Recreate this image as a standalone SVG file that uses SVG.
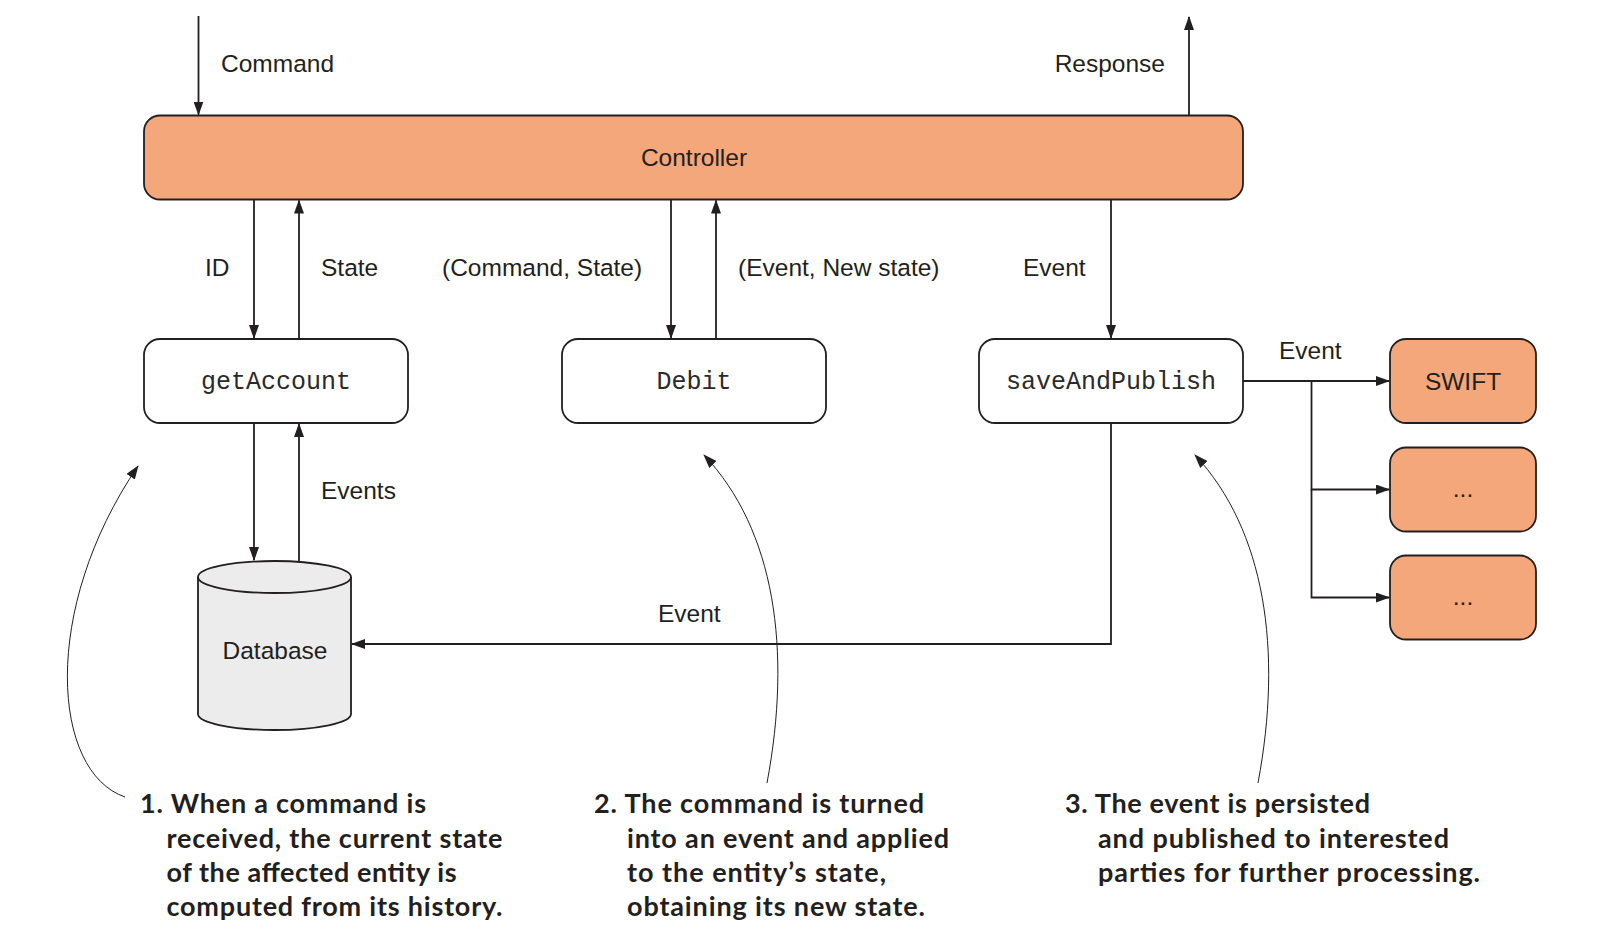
<svg xmlns="http://www.w3.org/2000/svg" width="1604" height="942" viewBox="0 0 1604 942">
<style>
.lbl{font-family:"Liberation Sans",Arial,sans-serif;font-size:24.5px;fill:#231f20}
.mono{font-family:"Liberation Mono","Courier New",monospace;font-size:25px;fill:#2a2a2a}
.note{font-family:Lato,"Open Sans",sans-serif;font-weight:bold;font-size:27px;fill:#231f20}
.orange{fill:#F4A77B;stroke:#231f20;stroke-width:1.8}
.white{fill:#ffffff;stroke:#231f20;stroke-width:1.8}
.ln{fill:none;stroke:#231f20;stroke-width:1.8}
.thin{fill:none;stroke:#231f20;stroke-width:1}
</style>
<defs>
<marker id="ah" markerWidth="14" markerHeight="10" refX="13" refY="5" orient="auto" markerUnits="userSpaceOnUse">
<path d="M0,0 L14,5 L0,10 Z" fill="#231f20"/>
</marker>
</defs>
<rect width="1604" height="942" fill="#ffffff"/>

<g id="controller">
<rect class="orange" x="144" y="115.5" width="1099" height="84" rx="16"/>
<text class="lbl" x="694" y="166" text-anchor="middle">Controller</text>
</g>
<g id="getAccount">
<rect class="white" x="144" y="339" width="264" height="84" rx="16"/>
<text class="mono" x="276" y="389" text-anchor="middle">getAccount</text>
</g>
<g id="debit">
<rect class="white" x="562" y="339" width="264" height="84" rx="16"/>
<text class="mono" x="694" y="389" text-anchor="middle">Debit</text>
</g>
<g id="saveAndPublish">
<rect class="white" x="979" y="339" width="264" height="84" rx="16"/>
<text class="mono" x="1111" y="389" text-anchor="middle">saveAndPublish</text>
</g>
<g id="swift">
<rect class="orange" x="1390" y="339" width="146" height="84" rx="16"/>
<text class="lbl" x="1463" y="390" text-anchor="middle">SWIFT</text>
</g>
<g id="sub2">
<rect class="orange" x="1390" y="447.5" width="146" height="84" rx="16"/>
<text class="lbl" x="1463" y="497" text-anchor="middle">...</text>
</g>
<g id="sub3">
<rect class="orange" x="1390" y="555.5" width="146" height="84" rx="16"/>
<text class="lbl" x="1463" y="605" text-anchor="middle">...</text>
</g>
<g id="database">
<path d="M198,577 L198,714 A76.5,16 0 0 0 351,714 L351,577" fill="#ececec" stroke="#231f20" stroke-width="1.8"/>
<ellipse cx="274.5" cy="577" rx="76.5" ry="16" fill="#ececec" stroke="#231f20" stroke-width="1.8"/>
<text class="lbl" x="275" y="659" text-anchor="middle">Database</text>
</g>

<g id="connectors">
<line class="ln" x1="198.5" y1="16" x2="198.5" y2="114.5" marker-end="url(#ah)"/>
<line class="ln" x1="1189" y1="115.5" x2="1189" y2="17" marker-end="url(#ah)"/>
<line class="ln" x1="254" y1="199.5" x2="254" y2="338" marker-end="url(#ah)"/>
<line class="ln" x1="299" y1="339" x2="299" y2="200.5" marker-end="url(#ah)"/>
<line class="ln" x1="671" y1="199.5" x2="671" y2="338" marker-end="url(#ah)"/>
<line class="ln" x1="716" y1="339" x2="716" y2="200.5" marker-end="url(#ah)"/>
<line class="ln" x1="1111" y1="199.5" x2="1111" y2="338" marker-end="url(#ah)"/>
<line class="ln" x1="254" y1="423" x2="254" y2="560" marker-end="url(#ah)"/>
<line class="ln" x1="299" y1="561" x2="299" y2="424" marker-end="url(#ah)"/>
<polyline class="ln" points="1111,423 1111,644 352,644" marker-end="url(#ah)"/>
<line class="ln" x1="1243" y1="381" x2="1389" y2="381" marker-end="url(#ah)"/>
<polyline class="ln" points="1311.5,381 1311.5,489.5 1389,489.5" marker-end="url(#ah)"/>
<polyline class="ln" points="1311.5,489.5 1311.5,597.5 1389,597.5" marker-end="url(#ah)"/>
<path class="thin" d="M125,797 C52,772 40,610 138,466" marker-end="url(#ah)"/>
<path class="thin" d="M767,783 C792,650 775,530 704,455" marker-end="url(#ah)"/>
<path class="thin" d="M1258,783 C1283,650 1265,530 1195,455" marker-end="url(#ah)"/>
</g>

<g id="labels">
<text class="lbl" x="221" y="72">Command</text>
<text class="lbl" x="1165" y="72" text-anchor="end">Response</text>
<text class="lbl" x="205" y="276">ID</text>
<text class="lbl" x="321" y="276">State</text>
<text class="lbl" x="442" y="276">(Command, State)</text>
<text class="lbl" x="738" y="276">(Event, New state)</text>
<text class="lbl" x="1023" y="276">Event</text>
<text class="lbl" x="1279" y="359">Event</text>
<text class="lbl" x="321" y="499">Events</text>
<text class="lbl" x="658" y="622">Event</text>
</g>

<g id="notes">
<text class="note" x="140" y="813" textLength="286" lengthAdjust="spacing">1. When a command is</text>
<text class="note" x="166.5" y="847.5" textLength="336" lengthAdjust="spacing">received, the current state</text>
<text class="note" x="166.5" y="881.5" textLength="290" lengthAdjust="spacing">of the affected entity is</text>
<text class="note" x="166.5" y="915.5" textLength="336" lengthAdjust="spacing">computed from its history.</text>
<text class="note" x="594" y="813" textLength="330" lengthAdjust="spacing">2. The command is turned</text>
<text class="note" x="627" y="847.5" textLength="322" lengthAdjust="spacing">into an event and applied</text>
<text class="note" x="627" y="881.5" textLength="259" lengthAdjust="spacing">to the entity’s state,</text>
<text class="note" x="627" y="915.5" textLength="298" lengthAdjust="spacing">obtaining its new state.</text>
<text class="note" x="1065" y="813" textLength="305" lengthAdjust="spacing">3. The event is persisted</text>
<text class="note" x="1098" y="847.5" textLength="351" lengthAdjust="spacing">and published to interested</text>
<text class="note" x="1098" y="881.5" textLength="382" lengthAdjust="spacing">parties for further processing.</text>
</g>
</svg>
